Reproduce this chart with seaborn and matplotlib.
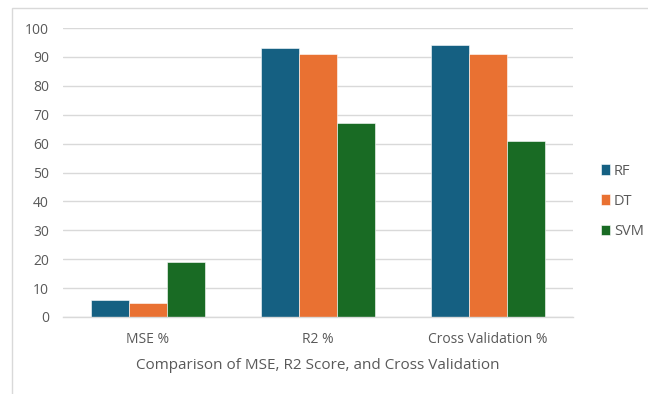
import matplotlib
matplotlib.use("Agg")
import matplotlib.pyplot as plt
from matplotlib.patches import Rectangle
import seaborn as sns
import pandas as pd

metrics = ["MSE %", "R2 %", "Cross Validation %"]
models = ["RF", "DT", "SVM"]
rf_values = [6, 93, 94]
dt_values = [5, 91, 91]
svm_values = [19, 67, 61]
y_ticks = [0, 10, 20, 30, 40, 50, 60, 70, 80, 90, 100]

df = pd.DataFrame({
    "Metric": metrics * 3,
    "Model": ["RF"] * 3 + ["DT"] * 3 + ["SVM"] * 3,
    "Value": rf_values + dt_values + svm_values,
})

palette = {"RF": "#156082", "DT": "#E97132", "SVM": "#196B24"}
text_gray = "#595959"

sns.set_theme(style="white")
plt.rcParams["font.family"] = ["Open Sans", "DejaVu Sans"]

fig = plt.figure(figsize=(6.48, 3.94), dpi=100)
fig.patch.set_facecolor("white")
ax = fig.add_axes([63 / 648, 1 - 317 / 394, 510 / 648, 289 / 394])

sns.barplot(data=df, x="Metric", y="Value", hue="Model", order=metrics,
            hue_order=models, palette=palette, width=0.667, saturation=1,
            edgecolor="white", linewidth=0.4, ax=ax)

ax.set_ylim(0, 100)
ax.set_yticks(y_ticks)
ax.yaxis.grid(True, color="#D9D9D9", linewidth=1.0)
ax.set_axisbelow(True)
for s in ["top", "right", "left"]:
    ax.spines[s].set_visible(False)
ax.spines["bottom"].set_color("#D9D9D9")
ax.spines["bottom"].set_linewidth(1.0)
ax.tick_params(axis="y", length=0, pad=10, labelsize=10, labelcolor=text_gray)
ax.tick_params(axis="x", length=0, pad=11, labelsize=10, labelcolor=text_gray)
ax.set_ylabel("")
ax.set_xlabel("Comparison of MSE, R2 Score, and Cross Validation",
              fontsize=11, color=text_gray, labelpad=8)

sns.move_legend(ax, "center left", bbox_to_anchor=(1.03, 0.40), title=None,
                frameon=False, fontsize=10.5, handlelength=0.6, handleheight=0.75,
                handletextpad=0.25, labelspacing=1.05, labelcolor=text_gray)

# chart area border
fig.patches.append(Rectangle((12 / 648, -0.1), 1.1, 1 - 8 / 394 + 0.1,
                             transform=fig.transFigure, fill=False,
                             edgecolor="#D9D9D9", linewidth=1.0))

fig.savefig("out.png", dpi=100, facecolor="white")
